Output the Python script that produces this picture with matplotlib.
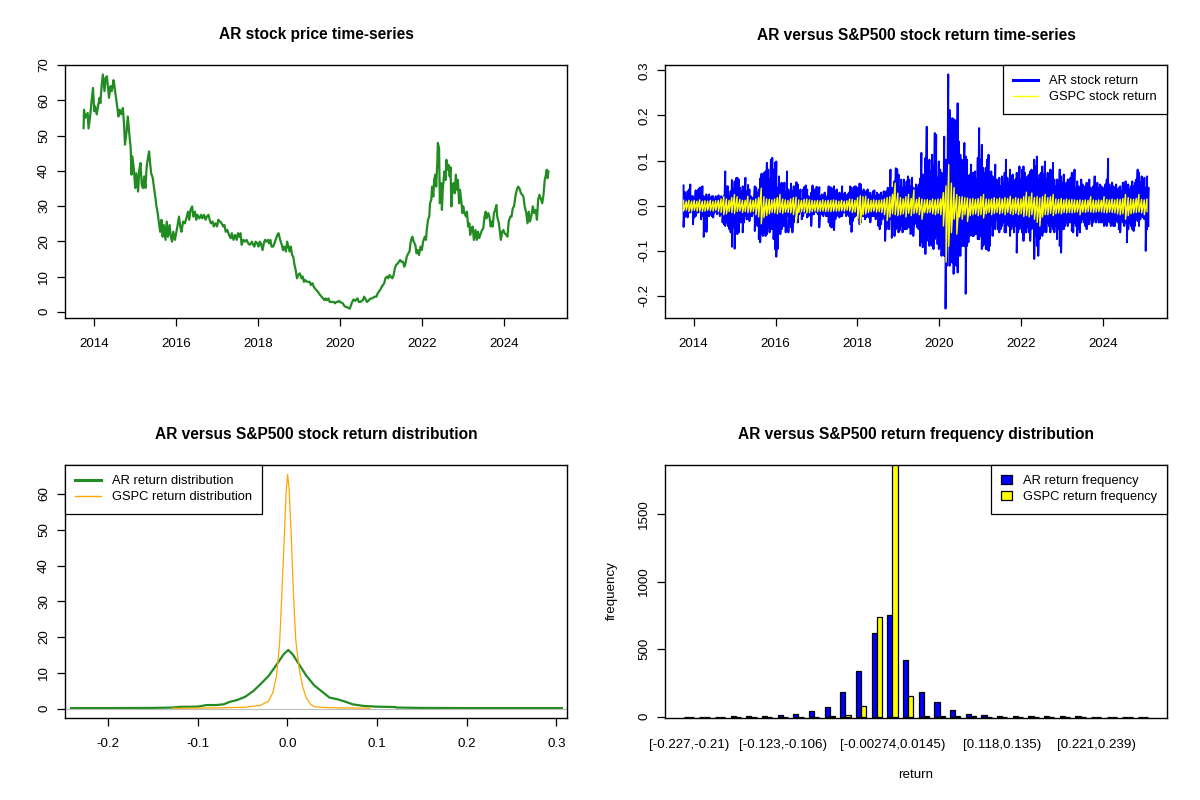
import numpy as np
import matplotlib
matplotlib.use("Agg")
import matplotlib.pyplot as plt
from matplotlib.lines import Line2D
from matplotlib.patches import Patch

plt.rcParams['font.family'] = ['Liberation Sans', 'DejaVu Sans']
plt.rcParams['axes.unicode_minus'] = False

# ---- AR closing price (year, price) ----
price_2013_17 = [
    (2013.74, 52.1), (2013.75, 57.3), (2013.78, 55.0), (2013.84, 56.4), (2013.86, 52.0), (2013.90, 55.4),
    (2013.93, 59.2), (2013.97, 63.5), (2014.00, 56.9), (2014.02, 58.3), (2014.06, 56.0), (2014.10, 58.8),
    (2014.13, 60.7), (2014.15, 59.2), (2014.18, 64.0), (2014.21, 67.3), (2014.25, 62.6), (2014.28, 66.4),
    (2014.31, 66.8), (2014.34, 63.0), (2014.36, 60.7), (2014.40, 64.0), (2014.43, 62.6), (2014.47, 65.7),
    (2014.49, 64.5), (2014.52, 61.6), (2014.55, 59.2), (2014.59, 55.4), (2014.62, 57.3), (2014.66, 56.0),
    (2014.70, 57.8), (2014.73, 52.6), (2014.75, 47.4), (2014.79, 51.2), (2014.82, 55.4), (2014.85, 51.2),
    (2014.89, 46.4), (2014.91, 38.9), (2014.93, 44.1), (2014.97, 40.3), (2015.00, 35.1), (2015.03, 39.3),
    (2015.07, 34.1), (2015.10, 40.3), (2015.13, 42.2), (2015.16, 36.0), (2015.19, 35.1), (2015.22, 38.4),
    (2015.25, 35.1), (2015.28, 41.2), (2015.31, 43.6), (2015.34, 45.5), (2015.36, 42.7), (2015.39, 39.3),
    (2015.43, 37.9), (2015.46, 35.1), (2015.49, 32.7), (2015.52, 29.9), (2015.55, 28.0), (2015.58, 25.1),
    (2015.61, 22.7), (2015.64, 26.1), (2015.67, 21.3), (2015.70, 24.6), (2015.74, 20.4), (2015.77, 25.6),
    (2015.80, 21.3), (2015.84, 24.6), (2015.87, 21.3), (2015.90, 19.9), (2015.93, 22.7), (2015.97, 20.4),
    (2016.00, 22.3), (2016.03, 24.2), (2016.07, 27.0), (2016.10, 24.2), (2016.13, 22.7), (2016.17, 25.6),
    (2016.21, 25.1), (2016.25, 26.5), (2016.29, 28.4), (2016.32, 26.1), (2016.35, 28.9), (2016.39, 29.9),
    (2016.42, 27.0), (2016.46, 28.4), (2016.49, 26.1), (2016.52, 27.5), (2016.57, 26.5), (2016.61, 27.5),
    (2016.64, 26.5), (2016.68, 27.5), (2016.72, 26.1), (2016.75, 27.0), (2016.79, 27.5), (2016.82, 26.1),
    (2016.85, 25.1), (2016.89, 25.6), (2016.92, 24.2), (2016.96, 25.1), (2017.00, 24.2), (2017.03, 26.1),
    (2017.07, 25.6), (2017.11, 25.1), (2017.15, 24.2), (2017.18, 24.6), (2017.21, 22.7), (2017.25, 23.2),
    (2017.29, 21.8), (2017.33, 20.9), (2017.36, 22.3), (2017.40, 20.4), (2017.44, 21.8), (2017.48, 20.4),
    (2017.51, 22.3), (2017.54, 21.3), (2017.57, 22.3), (2017.60, 19.0),
]
price_2017_21 = [
    (2017.64, 20.4), (2017.68, 19.9), (2017.72, 20.4), (2017.76, 19.4), (2017.80, 19.0), (2017.85, 19.9),
    (2017.88, 19.0), (2017.91, 18.5), (2017.94, 19.9), (2017.98, 19.4), (2018.01, 18.5), (2018.04, 19.9),
    (2018.07, 19.4), (2018.11, 17.5), (2018.14, 19.4), (2018.17, 20.4), (2018.20, 19.9), (2018.24, 20.4),
    (2018.27, 19.4), (2018.30, 20.4), (2018.33, 18.5), (2018.37, 18.5), (2018.40, 19.4), (2018.43, 20.4),
    (2018.47, 21.8), (2018.50, 22.3), (2018.54, 20.4), (2018.58, 19.0), (2018.61, 17.5), (2018.64, 18.5),
    (2018.68, 17.1), (2018.71, 19.9), (2018.74, 18.5), (2018.77, 17.1), (2018.80, 18.5), (2018.83, 16.1),
    (2018.86, 15.6), (2018.89, 13.3), (2018.92, 11.8), (2018.95, 9.5), (2018.98, 10.4), (2019.02, 10.9),
    (2019.06, 9.5), (2019.09, 10.0), (2019.12, 8.5), (2019.15, 9.0), (2019.20, 8.5), (2019.23, 8.5),
    (2019.26, 8.5), (2019.29, 7.6), (2019.33, 8.1), (2019.36, 7.1), (2019.39, 6.6), (2019.42, 6.2),
    (2019.46, 5.7), (2019.49, 5.2), (2019.52, 4.7), (2019.55, 4.3), (2019.59, 3.8), (2019.62, 3.3),
    (2019.65, 3.8), (2019.68, 3.3), (2019.72, 3.8), (2019.75, 2.8), (2019.78, 2.8), (2019.81, 2.8),
    (2019.85, 2.8), (2019.88, 2.4), (2019.91, 2.8), (2019.94, 2.8), (2019.98, 3.1), (2020.01, 2.7),
    (2020.04, 2.6), (2020.07, 2.4), (2020.11, 1.6), (2020.14, 1.4), (2020.17, 1.4), (2020.20, 1.1),
    (2020.24, 0.9), (2020.27, 1.9), (2020.30, 2.8), (2020.33, 3.5), (2020.37, 3.1), (2020.40, 3.5),
    (2020.43, 3.8), (2020.46, 2.8), (2020.50, 2.8), (2020.53, 3.1), (2020.56, 3.3), (2020.59, 4.3),
    (2020.63, 3.5), (2020.66, 2.8), (2020.69, 3.1), (2020.72, 3.5), (2020.76, 3.8), (2020.79, 3.8),
    (2020.82, 4.1), (2020.85, 4.3), (2020.89, 4.3), (2020.92, 5.2), (2020.95, 5.7), (2020.98, 6.2),
    (2021.02, 7.1), (2021.05, 7.6), (2021.08, 8.1), (2021.11, 9.5), (2021.15, 10.0), (2021.18, 9.5),
    (2021.21, 10.4), (2021.24, 10.0), (2021.28, 9.5), (2021.31, 10.4), (2021.34, 12.3), (2021.37, 13.3),
    (2021.41, 13.7), (2021.44, 14.2), (2021.47, 14.7), (2021.50, 14.2), (2021.54, 14.2), (2021.57, 12.8),
    (2021.60, 13.7), (2021.63, 15.6), (2021.67, 16.6), (2021.70, 17.1), (2021.72, 19.4), (2021.75, 20.9),
]
price_2021_25 = [
    (2021.77, 21.3), (2021.80, 19.9), (2021.84, 19.0), (2021.87, 16.6), (2021.90, 17.5), (2021.93, 16.1),
    (2021.97, 18.5), (2022.00, 17.5), (2022.03, 19.9), (2022.07, 21.3), (2022.10, 20.4), (2022.12, 23.2),
    (2022.15, 26.1), (2022.18, 27.0), (2022.20, 30.8), (2022.23, 31.8), (2022.25, 35.5), (2022.28, 32.7),
    (2022.30, 37.4), (2022.33, 38.9), (2022.35, 35.5), (2022.38, 43.1), (2022.39, 47.9), (2022.42, 46.4),
    (2022.44, 30.8), (2022.47, 36.5), (2022.49, 28.9), (2022.51, 34.6), (2022.55, 39.8), (2022.58, 37.4),
    (2022.60, 43.1), (2022.63, 40.3), (2022.65, 41.7), (2022.68, 38.4), (2022.70, 41.0), (2022.72, 29.9),
    (2022.74, 34.6), (2022.77, 36.5), (2022.80, 33.6), (2022.83, 38.9), (2022.86, 34.6), (2022.88, 37.4),
    (2022.91, 30.8), (2022.93, 34.6), (2022.96, 31.8), (2022.99, 28.0), (2023.01, 29.9), (2023.04, 28.0),
    (2023.08, 27.0), (2023.10, 28.4), (2023.13, 24.2), (2023.16, 25.1), (2023.18, 21.8), (2023.21, 23.7),
    (2023.24, 24.2), (2023.27, 20.4), (2023.31, 23.2), (2023.34, 20.4), (2023.37, 22.7), (2023.40, 20.9),
    (2023.44, 22.3), (2023.47, 23.2), (2023.50, 23.7), (2023.53, 27.0), (2023.56, 28.4), (2023.58, 26.5),
    (2023.62, 28.0), (2023.65, 27.0), (2023.68, 24.2), (2023.71, 25.6), (2023.73, 24.2), (2023.76, 28.0),
    (2023.79, 28.9), (2023.82, 30.3), (2023.84, 27.0), (2023.88, 25.1), (2023.91, 22.3), (2023.93, 20.4),
    (2023.96, 22.7), (2023.99, 23.2), (2024.02, 22.3), (2024.06, 21.8), (2024.09, 21.3), (2024.12, 25.6),
    (2024.16, 27.0), (2024.19, 27.0), (2024.22, 29.4), (2024.25, 29.9), (2024.29, 33.2), (2024.32, 34.6),
    (2024.35, 35.5), (2024.38, 35.1), (2024.42, 33.6), (2024.45, 33.2), (2024.48, 32.7), (2024.51, 29.9),
    (2024.55, 28.0), (2024.58, 25.1), (2024.61, 28.4), (2024.64, 25.6), (2024.68, 27.5), (2024.71, 29.9),
    (2024.74, 28.0), (2024.78, 28.9), (2024.81, 26.1), (2024.84, 31.8), (2024.87, 33.2), (2024.91, 31.8),
    (2024.94, 30.8), (2024.97, 33.2), (2025.00, 37.4), (2025.03, 38.9), (2025.05, 40.3), (2025.07, 37.9),
    (2025.09, 39.8),
]

# ---- daily returns, read as (high, low) swings per short time slot ----
ret_start, ret_end = 2013.755, 2025.105
ar_ret_2013_17 = [
    (0.045, -0.047), (0.030, -0.025), (0.014, -0.023), (0.032, -0.026), (0.036, -0.015), (0.047, -0.015),
    (0.021, -0.012), (0.021, -0.041), (0.014, -0.026), (0.034, -0.023), (0.021, -0.015), (0.036, -0.015),
    (0.040, -0.012), (0.040, -0.030), (0.043, -0.023), (0.021, -0.069), (0.014, -0.026), (0.025, -0.058),
    (0.018, -0.023), (0.025, -0.023), (0.018, -0.019), (0.021, -0.023), (0.021, -0.026), (0.014, -0.015),
    (0.021, -0.012), (0.018, -0.019), (0.023, -0.015), (0.014, -0.023), (0.021, -0.019), (0.018, -0.037),
    (0.021, -0.041), (0.076, -0.045), (0.043, -0.037), (0.043, -0.045), (0.021, -0.052), (0.032, -0.059),
    (0.057, -0.091), (0.036, -0.048), (0.054, -0.095), (0.061, -0.056), (0.062, -0.063), (0.058, -0.059),
    (0.040, -0.037), (0.032, -0.037), (0.043, -0.059), (0.021, -0.037), (0.062, -0.023), (0.032, -0.030),
    (0.046, -0.030), (0.036, -0.034), (0.021, -0.023), (0.018, -0.023), (0.014, -0.015), (0.043, -0.056),
    (0.040, -0.037), (0.029, -0.045), (0.036, -0.074), (0.060, -0.081), (0.071, -0.063), (0.069, -0.067),
    (0.073, -0.059), (0.076, -0.067), (0.095, -0.063), (0.080, -0.048), (0.058, -0.059), (0.102, -0.052),
    (0.106, -0.052), (0.080, -0.074), (0.095, -0.096), (0.098, -0.113), (0.040, -0.096), (0.065, -0.059),
    (0.047, -0.063), (0.051, -0.052), (0.032, -0.045), (0.051, -0.045), (0.029, -0.059), (0.076, -0.023),
    (0.036, -0.059), (0.029, -0.041), (0.049, -0.048), (0.032, -0.059), (0.043, -0.037), (0.021, -0.023),
    (0.052, -0.019), (0.047, -0.037), (0.029, -0.019), (0.036, -0.012), (0.014, -0.030), (0.036, -0.023),
    (0.042, -0.015), (0.045, -0.015), (0.036, -0.026), (0.021, -0.023), (0.014, -0.019), (0.029, -0.045),
    (0.045, -0.019), (0.036, -0.019), (0.014, -0.012), (0.042, -0.015), (0.029, -0.019), (0.041, -0.048),
    (0.021, -0.015), (0.025, -0.019), (0.021, -0.023), (0.029, -0.015), (0.021, -0.023), (0.018, -0.023),
    (0.043, -0.037), (0.041, -0.045), (0.040, -0.048), (0.036, -0.048), (0.043, -0.054), (0.032, -0.030),
]
ar_ret_2017_21 = [
    (0.036, -0.023), (0.021, -0.019), (0.029, -0.026), (0.025, -0.023), (0.043, -0.023), (0.025, -0.015),
    (0.029, -0.015), (0.021, -0.023), (0.025, -0.019), (0.029, -0.023), (0.043, -0.041), (0.040, -0.058),
    (0.032, -0.034), (0.042, -0.026), (0.043, -0.023), (0.040, -0.019), (0.032, -0.030), (0.049, -0.041),
    (0.047, -0.037), (0.029, -0.023), (0.036, -0.023), (0.021, -0.030), (0.032, -0.026), (0.036, -0.023),
    (0.025, -0.026), (0.029, -0.037), (0.021, -0.023), (0.032, -0.023), (0.034, -0.023), (0.021, -0.030),
    (0.029, -0.023), (0.025, -0.045), (0.025, -0.052), (0.029, -0.041), (0.021, -0.030), (0.032, -0.023),
    (0.029, -0.078), (0.032, -0.052), (0.040, -0.037), (0.032, -0.052), (0.080, -0.030), (0.040, -0.071),
    (0.025, -0.045), (0.054, -0.067), (0.083, -0.052), (0.081, -0.048), (0.069, -0.059), (0.043, -0.054),
    (0.058, -0.045), (0.040, -0.059), (0.058, -0.052), (0.040, -0.052), (0.054, -0.052), (0.065, -0.048),
    (0.058, -0.048), (0.043, -0.063), (0.062, -0.037), (0.040, -0.067), (0.036, -0.041), (0.047, -0.026),
    (0.040, -0.048), (0.047, -0.052), (0.060, -0.089), (0.117, -0.081), (0.069, -0.092), (0.069, -0.089),
    (0.106, -0.107), (0.175, -0.078), (0.073, -0.067), (0.102, -0.089), (0.076, -0.085), (0.113, -0.089),
    (0.087, -0.096), (0.161, -0.074), (0.157, -0.067), (0.062, -0.085), (0.098, -0.096), (0.080, -0.092),
    (0.073, -0.111), (0.069, -0.085), (0.153, -0.111), (0.102, -0.228), (0.080, -0.133), (0.291, -0.081),
    (0.212, -0.133), (0.183, -0.118), (0.194, -0.126), (0.192, -0.151), (0.131, -0.118), (0.190, -0.133),
    (0.227, -0.148), (0.142, -0.111), (0.113, -0.111), (0.102, -0.089), (0.080, -0.089), (0.139, -0.089),
    (0.109, -0.195), (0.102, -0.089), (0.065, -0.081), (0.069, -0.067), (0.091, -0.059), (0.073, -0.067),
    (0.073, -0.067), (0.076, -0.063), (0.058, -0.063), (0.106, -0.074), (0.172, -0.074), (0.102, -0.067),
    (0.135, -0.096), (0.084, -0.089), (0.073, -0.085), (0.084, -0.096), (0.102, -0.096), (0.113, -0.100),
    (0.073, -0.089), (0.076, -0.045), (0.065, -0.067), (0.043, -0.048), (0.091, -0.052),
]
ar_ret_2021_25 = [
    (0.058, -0.030), (0.051, -0.052), (0.062, -0.059), (0.043, -0.052), (0.065, -0.045), (0.047, -0.037),
    (0.073, -0.059), (0.102, -0.059), (0.062, -0.041), (0.051, -0.045), (0.080, -0.067), (0.065, -0.052),
    (0.069, -0.045), (0.054, -0.059), (0.058, -0.045), (0.073, -0.104), (0.069, -0.059), (0.087, -0.052),
    (0.058, -0.045), (0.080, -0.059), (0.087, -0.078), (0.073, -0.045), (0.058, -0.059), (0.065, -0.048),
    (0.069, -0.059), (0.076, -0.078), (0.080, -0.052), (0.051, -0.045), (0.102, -0.118), (0.087, -0.067),
    (0.109, -0.089), (0.058, -0.111), (0.069, -0.074), (0.073, -0.052), (0.087, -0.067), (0.069, -0.059),
    (0.098, -0.052), (0.058, -0.059), (0.073, -0.037), (0.051, -0.045), (0.080, -0.059), (0.076, -0.045),
    (0.095, -0.052), (0.058, -0.059), (0.043, -0.045), (0.058, -0.074), (0.054, -0.052), (0.080, -0.089),
    (0.065, -0.104), (0.051, -0.052), (0.069, -0.052), (0.043, -0.045), (0.051, -0.037), (0.058, -0.045),
    (0.047, -0.037), (0.062, -0.037), (0.073, -0.056), (0.043, -0.059), (0.080, -0.037), (0.040, -0.045),
    (0.054, -0.067), (0.043, -0.052), (0.036, -0.059), (0.058, -0.037), (0.047, -0.030), (0.032, -0.037),
    (0.043, -0.045), (0.051, -0.052), (0.047, -0.041), (0.058, -0.041), (0.040, -0.030), (0.036, -0.045),
    (0.043, -0.037), (0.065, -0.030), (0.040, -0.037), (0.051, -0.030), (0.040, -0.037), (0.047, -0.037),
    (0.043, -0.037), (0.040, -0.037), (0.036, -0.045), (0.047, -0.041), (0.058, -0.045), (0.104, -0.034),
    (0.047, -0.037), (0.040, -0.045), (0.051, -0.037), (0.043, -0.045), (0.036, -0.045), (0.047, -0.030),
    (0.036, -0.037), (0.040, -0.052), (0.043, -0.059), (0.032, -0.030), (0.051, -0.037), (0.043, -0.045),
    (0.054, -0.037), (0.043, -0.081), (0.047, -0.052), (0.036, -0.037), (0.043, -0.045), (0.054, -0.052),
    (0.043, -0.056), (0.051, -0.045), (0.058, -0.030), (0.080, -0.034), (0.073, -0.045), (0.051, -0.030),
    (0.065, -0.023), (0.047, -0.026), (0.062, -0.030), (0.040, -0.100), (0.065, -0.052), (0.040, -0.045),
]
gspc_ret_2013_17 = [
    (0.012, -0.012), (0.010, -0.010), (0.012, -0.013), (0.010, -0.012), (0.012, -0.010), (0.010, -0.012),
    (0.013, -0.012), (0.010, -0.013), (0.011, -0.012), (0.010, -0.010), (0.012, -0.011), (0.010, -0.012),
    (0.011, -0.010), (0.012, -0.013), (0.015, -0.015), (0.020, -0.020), (0.015, -0.018), (0.012, -0.013),
    (0.018, -0.015), (0.025, -0.017), (0.020, -0.013), (0.014, -0.012), (0.012, -0.015), (0.012, -0.013),
    (0.021, -0.015), (0.013, -0.014), (0.012, -0.013), (0.015, -0.020), (0.018, -0.025), (0.039, -0.040),
    (0.020, -0.026), (0.015, -0.022), (0.014, -0.018), (0.013, -0.015), (0.015, -0.016), (0.018, -0.018),
    (0.025, -0.015), (0.015, -0.017), (0.013, -0.014), (0.012, -0.015), (0.015, -0.016), (0.018, -0.020),
    (0.019, -0.039), (0.013, -0.015), (0.012, -0.013), (0.014, -0.014), (0.015, -0.016), (0.013, -0.015),
    (0.012, -0.013), (0.011, -0.012), (0.012, -0.013), (0.011, -0.012), (0.013, -0.012), (0.011, -0.013),
    (0.012, -0.012), (0.012, -0.013), (0.013, -0.012),
]
gspc_ret_2017_21 = [
    (0.012, -0.012), (0.010, -0.012), (0.012, -0.011), (0.010, -0.012), (0.011, -0.010), (0.015, -0.012),
    (0.014, -0.015), (0.012, -0.014), (0.018, -0.030), (0.022, -0.041), (0.020, -0.020), (0.021, -0.018),
    (0.015, -0.015), (0.012, -0.013), (0.013, -0.012), (0.012, -0.014), (0.012, -0.013), (0.013, -0.015),
    (0.015, -0.020), (0.018, -0.033), (0.020, -0.025), (0.025, -0.018), (0.050, -0.020), (0.028, -0.022),
    (0.018, -0.020), (0.015, -0.018), (0.020, -0.025), (0.025, -0.017), (0.016, -0.022), (0.035, -0.017),
    (0.014, -0.016), (0.018, -0.020), (0.015, -0.030), (0.013, -0.015), (0.014, -0.016), (0.012, -0.015),
    (0.015, -0.018), (0.013, -0.020), (0.015, -0.017), (0.015, -0.020), (0.029, -0.045), (0.044, -0.125),
    (0.091, -0.090), (0.050, -0.060), (0.040, -0.030), (0.025, -0.063), (0.020, -0.025), (0.020, -0.030),
    (0.018, -0.020), (0.017, -0.035), (0.015, -0.022), (0.016, -0.020), (0.014, -0.018), (0.016, -0.022),
    (0.020, -0.020), (0.025, -0.027), (0.015, -0.018), (0.014, -0.015), (0.015, -0.020), (0.018, -0.017),
]
gspc_ret_2021_25 = [
    (0.015, -0.015), (0.017, -0.018), (0.015, -0.016), (0.018, -0.020), (0.016, -0.015), (0.021, -0.018),
    (0.015, -0.020), (0.018, -0.017), (0.016, -0.020), (0.015, -0.018), (0.020, -0.024), (0.030, -0.022),
    (0.020, -0.025), (0.028, -0.020), (0.018, -0.030), (0.020, -0.037), (0.017, -0.045), (0.020, -0.025),
    (0.025, -0.020), (0.018, -0.020), (0.020, -0.017), (0.025, -0.022), (0.015, -0.018), (0.014, -0.016),
    (0.016, -0.018), (0.013, -0.015), (0.015, -0.016), (0.013, -0.015), (0.014, -0.016), (0.013, -0.015),
    (0.012, -0.014), (0.013, -0.020), (0.012, -0.014), (0.013, -0.015), (0.012, -0.013), (0.020, -0.014),
    (0.013, -0.015), (0.012, -0.014), (0.013, -0.013), (0.012, -0.014), (0.020, -0.015), (0.014, -0.016),
    (0.013, -0.014), (0.015, -0.015), (0.013, -0.016), (0.015, -0.018), (0.014, -0.020), (0.016, -0.018),
    (0.025, -0.030), (0.018, -0.022), (0.015, -0.018), (0.014, -0.016), (0.016, -0.015), (0.025, -0.014),
    (0.014, -0.016), (0.013, -0.020), (0.015, -0.013),
]

# ---- kernel densities of the returns (x, density) ----
ar_density = [
    (-0.241, 0.15), (-0.20, 0.15), (-0.15, 0.2), (-0.128, 0.3), (-0.12, 0.5), (-0.10, 0.55), (-0.09, 1.0),
    (-0.079, 1.0), (-0.071, 1.2), (-0.064, 1.9), (-0.056, 2.4), (-0.047, 3.3), (-0.038, 4.9), (-0.030, 6.8),
    (-0.021, 9.1), (-0.013, 11.9), (-0.004, 15.2), (0.001, 16.4), (0.006, 15.2), (0.013, 12.4), (0.021, 9.3),
    (0.030, 6.5), (0.038, 4.9), (0.047, 3.1), (0.056, 2.6), (0.064, 2.0), (0.073, 1.2), (0.085, 0.75),
    (0.10, 0.55), (0.12, 0.45), (0.122, 0.3), (0.15, 0.2), (0.20, 0.15), (0.306, 0.15),
]
gspc_density = [
    (-0.128, 0.1), (-0.081, 0.2), (-0.047, 0.4), (-0.030, 0.9), (-0.021, 2.1), (-0.016, 4.5), (-0.012, 9.1),
    (-0.0085, 18.5), (-0.006, 32.5), (-0.0034, 47.4), (-0.0013, 60.4), (0.0004, 65.5), (0.002, 61.4),
    (0.0043, 49.3), (0.0068, 32.5), (0.0094, 19.4), (0.0128, 11.9), (0.017, 6.3), (0.021, 3.1),
    (0.026, 1.2), (0.030, 0.55), (0.043, 0.3), (0.064, 0.2), (0.092, 0.1),
]
ret_min, ret_max = -0.227, 0.291

# ---- return frequencies in 30 bins ----
ar_counts = [1, 1, 1, 2, 6, 8, 15, 22, 45, 75, 180, 340, 620, 750, 420,
             185, 105, 52, 22, 15, 5, 6, 5, 6, 5, 2, 1, 1, 1, 1]
gspc_counts = [0, 0, 0, 0, 0, 0, 1, 0, 1, 2, 15, 80, 740, 1889, 150,
               8, 5, 2, 4, 1, 0, 0, 0, 0, 0, 0, 0, 0, 0, 0]
bin_label_idx = [0, 6, 13, 20, 26]
bin_labels = ['[-0.227,-0.21)', '[-0.123,-0.106)', '[-0.00274,0.0145)', '[0.118,0.135)', '[0.221,0.239)']

FS = 9.6
LEG_FS = 9.3
fig = plt.figure(figsize=(12, 8), dpi=100)


def r_axes(x0, y0, x1, y1):
    ax = fig.add_axes([x0 / 1200, 1 - y1 / 800, (x1 - x0) / 1200, (y1 - y0) / 800])
    for s in ax.spines.values():
        s.set_linewidth(1.0)
    ax.tick_params(direction='out', length=5.8, width=0.9, labelsize=FS, pad=8.5)
    ax.tick_params(axis='y', pad=5.0)
    return ax


def rot_y(ax):
    for lab in ax.get_yticklabels():
        lab.set_rotation(90)
        lab.set_va('center')


def title(x, y, s):
    fig.text(x / 1200, 1 - y / 800, s, ha='center', va='center', fontsize=11.2, fontweight='bold')


def r_legend(ax, handles, labels, loc, hl=1.95):
    leg = ax.legend(handles, labels, loc=loc, fontsize=LEG_FS, frameon=True, fancybox=False,
                    edgecolor='black', framealpha=1, borderaxespad=0, borderpad=0.8,
                    handlelength=hl, handletextpad=0.85, labelspacing=0.3)
    leg.get_frame().set_linewidth(0.9)
    return leg


# 1. price time series
yrs = [p[0] for p in price_2013_17 + price_2017_21 + price_2021_25]
px = [p[1] for p in price_2013_17 + price_2017_21 + price_2021_25]
ax1 = r_axes(65, 65, 567, 318)
ax1.plot(yrs, px, color='forestgreen', lw=1.6)
ax1.margins(x=0.04, y=0.04)
ax1.set_xticks(range(2014, 2025, 2), [str(y) for y in range(2014, 2025, 2)])
ax1.set_yticks(range(0, 71, 10))
rot_y(ax1)
title(316, 35, 'AR stock price time-series')

# 2. return time series
ar_env = ar_ret_2013_17 + ar_ret_2017_21 + ar_ret_2021_25
gs_env = gspc_ret_2013_17 + gspc_ret_2017_21 + gspc_ret_2021_25
ar_t = np.repeat(np.linspace(ret_start, ret_end, len(ar_env)), 2)
gs_t = np.repeat(np.linspace(ret_start, ret_end - 0.035, len(gs_env)), 2)
ar_r = np.array(ar_env).ravel()
gs_r = np.array(gs_env).ravel()
ax2 = r_axes(665, 65, 1167, 318)
ax2.plot(ar_t, ar_r, color='blue', lw=1.4)
ax2.plot(gs_t, gs_r, color='yellow', lw=1.0)
ax2.margins(x=0.04, y=0.04)
ax2.set_xticks(range(2014, 2025, 2), [str(y) for y in range(2014, 2025, 2)])
ax2.set_yticks([-0.2, -0.1, 0.0, 0.1, 0.2, 0.3], ['-0.2', '-0.1', '0.0', '0.1', '0.2', '0.3'])
rot_y(ax2)
r_legend(ax2, [Line2D([], [], color='blue', lw=2.2), Line2D([], [], color='yellow', lw=1.0)],
         ['AR stock return', 'GSPC stock return'], 'upper right')
title(916, 35, 'AR versus S&P500 stock return time-series')

# 3. return densities
ax3 = r_axes(65, 465, 567, 718)
ax3.plot([p[0] for p in ar_density], [p[1] for p in ar_density], color='forestgreen', lw=1.6)
ax3.axhline(0, color='#BEBEBE', lw=0.8)
ax3.plot([p[0] for p in gspc_density], [p[1] for p in gspc_density], color='orange', lw=0.9)
span = ret_max - ret_min
ax3.set_xlim(ret_min - 0.04 * span, ret_max + 0.04 * span)
top = max(p[1] for p in gspc_density)
ax3.set_ylim(-0.04 * top, 1.04 * top)
ax3.set_xticks([-0.2, -0.1, 0.0, 0.1, 0.2, 0.3], ['-0.2', '-0.1', '0.0', '0.1', '0.2', '0.3'])
ax3.set_yticks(range(0, 61, 10))
rot_y(ax3)
r_legend(ax3, [Line2D([], [], color='forestgreen', lw=2.2), Line2D([], [], color='orange', lw=1.0)],
         ['AR return distribution', 'GSPC return distribution'], 'upper left')
title(316, 435, 'AR versus S&P500 stock return distribution')

# 4. grouped frequency bars
ax4 = r_axes(665, 465, 1167, 718)
grp = np.arange(len(ar_counts)) * 3
ax4.bar(grp + 1, ar_counts, width=1, align='edge', color='blue', edgecolor='black', lw=0.9)
ax4.bar(grp + 2, gspc_counts, width=1, align='edge', color='yellow', edgecolor='black', lw=0.9)
xr = grp[-1] + 3 - 1
ax4.set_xlim(1 - 0.04 * xr, 1 + xr * 1.04)
ax4.set_ylim(-10, 1864)
ax4.set_xticks(grp[bin_label_idx] + 2, bin_labels)
ax4.tick_params(axis='x', length=0, pad=15)
ax4.set_yticks([0, 500, 1000, 1500])
rot_y(ax4)
fig.text(612 / 1200, 1 - 591 / 800, 'frequency', rotation=90, ha='center', va='center', fontsize=FS)
fig.text(916 / 1200, 1 - 775 / 800, 'return', ha='center', va='center', fontsize=FS)
r_legend(ax4, [Patch(facecolor='blue', edgecolor='black', lw=0.9),
               Patch(facecolor='yellow', edgecolor='black', lw=0.9)],
         ['AR return frequency', 'GSPC return frequency'], 'upper right', hl=0.8)
title(916, 435, 'AR versus S&P500 return frequency distribution')

fig.savefig('out.png', dpi=100)
